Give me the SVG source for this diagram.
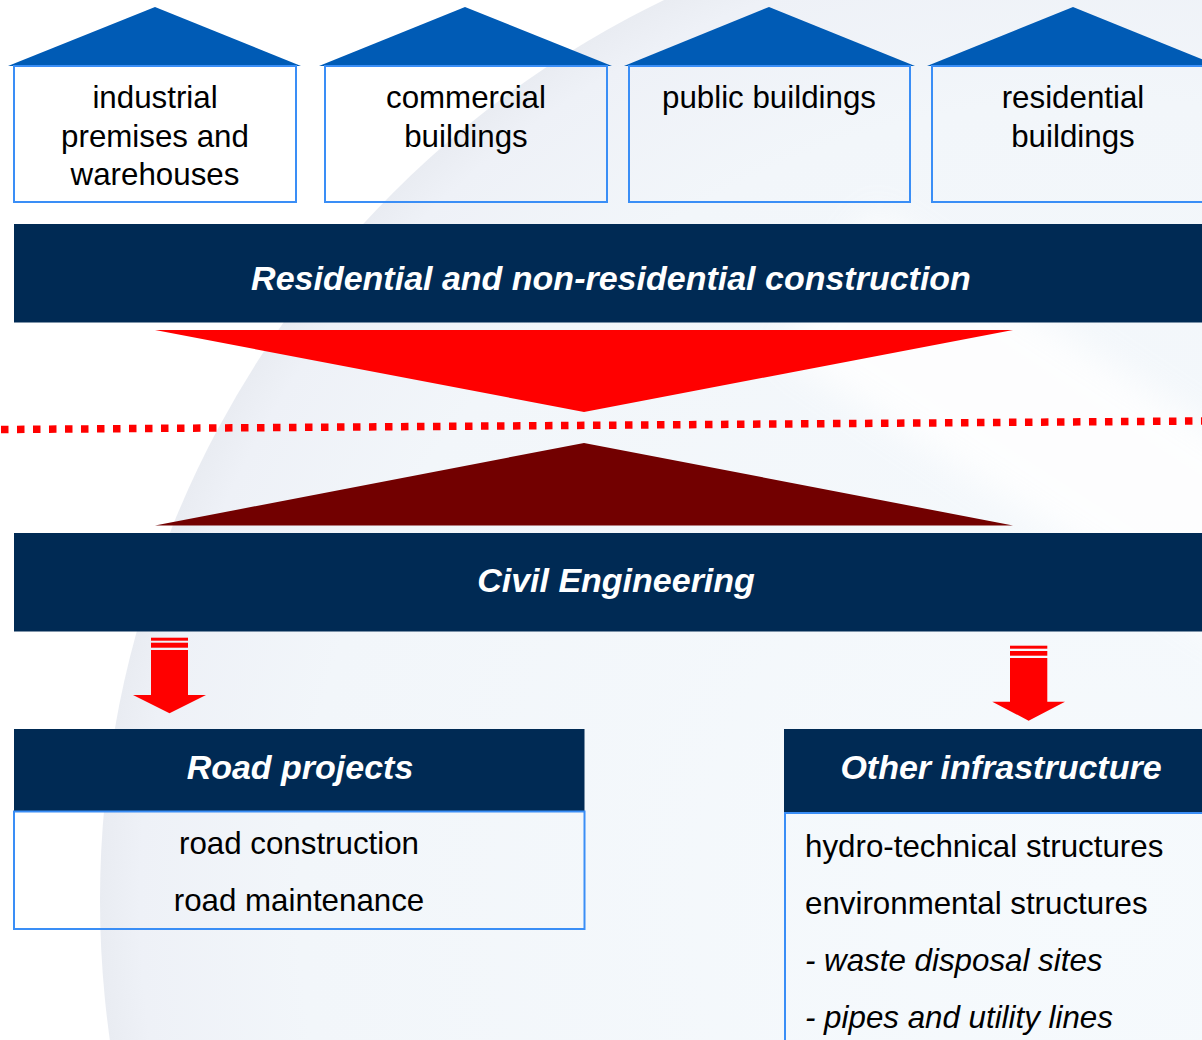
<svg xmlns="http://www.w3.org/2000/svg" width="1202" height="1040" viewBox="0 0 1202 1040">
<defs>
<style>
.roof{fill:#005bb5}
.box{fill:none;stroke:#3a8ef6;stroke-width:2}
.bar{fill:#002a54}
.t{font-family:"Liberation Sans",Arial,sans-serif;font-size:31.3px;fill:#000}
.c{text-anchor:middle}
.h{font-family:"Liberation Sans",Arial,sans-serif;font-size:34px;font-weight:bold;font-style:italic;fill:#fff;text-anchor:middle}
.i{font-style:italic}
.red{fill:#ff0000}
</style>
<radialGradient id="globe" cx="1100" cy="900" r="1000" gradientUnits="userSpaceOnUse">
<stop offset="0" stop-color="#f6fafd"/>
<stop offset="0.8" stop-color="#f2f6fa"/>
<stop offset="0.96" stop-color="#eef1f7"/>
<stop offset="1" stop-color="#e9ecf2"/>
</radialGradient>
<filter id="blur" x="-50%" y="-50%" width="200%" height="200%"><feGaussianBlur stdDeviation="18"/></filter>
</defs>
<g id="background">
<rect width="1202" height="1040" fill="#ffffff"/>
<circle cx="1100" cy="900" r="1000" fill="url(#globe)"/>
<rect x="800" y="295" width="560" height="170" fill="#ffffff" opacity="0.85" filter="url(#blur)" transform="rotate(33 980 377)"/>
</g>
<g id="house-industrial">
<polygon class="roof" points="8,66 155,7 301,66"/>
<rect class="box" x="14" y="66" width="282" height="136"/>
<text class="t c" x="155" y="108">industrial</text>
<text class="t c" x="155" y="146.5">premises and</text>
<text class="t c" x="155" y="185">warehouses</text>
</g>
<g id="house-commercial">
<polygon class="roof" points="319,66 465,7 612,66"/>
<rect class="box" x="325" y="66" width="282" height="136"/>
<text class="t c" x="466" y="108">commercial</text>
<text class="t c" x="466" y="146.5">buildings</text>
</g>
<g id="house-public">
<polygon class="roof" points="624,66 769,7 915,66"/>
<rect class="box" x="629" y="66" width="281" height="136"/>
<text class="t c" x="769" y="108">public buildings</text>
</g>
<g id="house-residential">
<polygon class="roof" points="927,66 1073,7 1219,66"/>
<rect class="box" x="932" y="66" width="282" height="136"/>
<text class="t c" x="1073" y="108">residential</text>
<text class="t c" x="1073" y="146.5">buildings</text>
</g>
<g id="bar-residential">
<rect class="bar" x="14" y="224" width="1190" height="98.5"/>
<text class="h" x="611" y="290">Residential and non-residential construction</text>
</g>
<g id="bar-civil">
<rect class="bar" x="14" y="533" width="1190" height="98.5"/>
<text class="h" x="616" y="592">Civil Engineering</text>
</g>
<g id="connectors">
<polygon class="red" points="155,330 1013,330 584,412"/>
<polygon fill="#720000" points="155,525.5 1013,525.5 584,443"/>
<line x1="1" y1="429.5" x2="1202" y2="421" stroke="#ff0000" stroke-width="7.5" stroke-dasharray="7.5 8.5"/>
<g id="arrow-left" class="red">
<rect x="151" y="637.7" width="37" height="3"/>
<rect x="151" y="642.7" width="37" height="5"/>
<polygon points="151,650 188,650 188,695 206,695 169.5,713.3 133,695 151,695"/>
</g>
<g id="arrow-right" class="red">
<rect x="1010" y="645.7" width="37.3" height="3"/>
<rect x="1010" y="651" width="37.3" height="4.7"/>
<polygon points="1010,658 1047.3,658 1047.3,701.7 1065,701.7 1028.6,720.7 992.3,701.7 1010,701.7"/>
</g>
</g>
<g id="road-projects">
<rect class="bar" x="14" y="729" width="570.5" height="82"/>
<text class="h" x="300" y="779">Road projects</text>
<rect class="box" x="14" y="811.5" width="570.5" height="117.5"/>
<text class="t c" x="299" y="854">road construction</text>
<text class="t c" x="299" y="911">road maintenance</text>
</g>
<g id="other-infrastructure">
<rect class="bar" x="784" y="729" width="420" height="83"/>
<text class="h" x="1001" y="779">Other infrastructure</text>
<rect class="box" x="785" y="813" width="430" height="240"/>
<text class="t" x="805" y="857">hydro-technical structures</text>
<text class="t" x="805" y="914">environmental structures</text>
<text class="t i" x="805" y="971">- waste disposal sites</text>
<text class="t i" x="805" y="1028">- pipes and utility lines</text>
</g>
</svg>
